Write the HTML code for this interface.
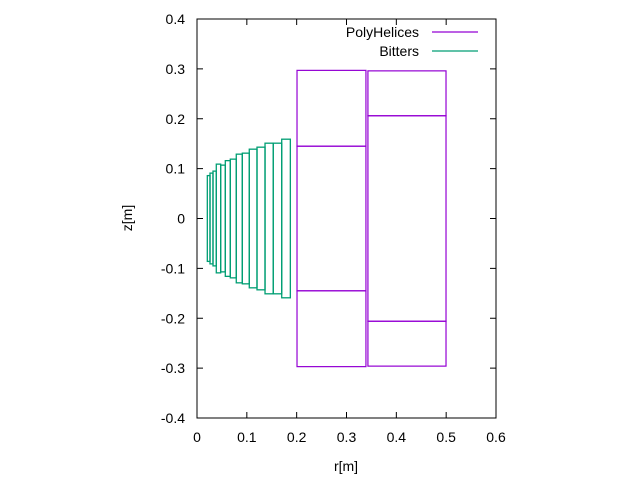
<!DOCTYPE html>
<html><head><meta charset="utf-8"><style>body{margin:0;background:#fff}svg{display:block;font-family:"Liberation Sans",sans-serif;font-size:14px}</style></head>
<body>
<svg id="c" width="640" height="480"></svg>
<script>
const xTicks=[0,0.1,0.2,0.3,0.4,0.5,0.6];
const yTicks=[-0.4,-0.3,-0.2,-0.1,0,0.1,0.2,0.3,0.4];
const bitterR1=[0.0207,0.0261,0.0321,0.0387,0.0475,0.0568,0.0668,0.0788,0.0909,0.1049,0.1204,0.1365,0.153,0.170];
const bitterR2=[0.0261,0.0321,0.0387,0.0475,0.0568,0.0668,0.0788,0.0909,0.1049,0.1204,0.1365,0.153,0.170,0.1873];
const bitterH=[0.086,0.091,0.095,0.109,0.107,0.116,0.119,0.129,0.131,0.139,0.143,0.151,0.151,0.159];
const helixR1=[0.2007,0.2007,0.2007,0.343,0.343,0.343];
const helixR2=[0.339,0.339,0.339,0.4997,0.4997,0.4997];
const helixZ1=[-0.297,-0.145,0.145,-0.296,-0.206,0.206];
const helixZ2=[-0.145,0.145,0.297,-0.206,0.206,0.296];
const L=197,R=496,T=19,B=418;
const X=v=>L+(v-0)/0.6*(R-L), Y=v=>B-(v+0.4)/0.8*(B-T);
const s=document.getElementById('c'),NS='http://www.w3.org/2000/svg';
function el(t,a,p){const e=document.createElementNS(NS,t);for(const k in a)e.setAttribute(k,a[k]);(p||s).appendChild(e);return e;}
const fmt=v=>(Math.round(v*10)/10).toString();
xTicks.forEach(v=>{const x=X(v);
 const t=el('line',{x1:x,x2:x,y1:B,y2:B-6,stroke:'#000'});
 el('line',{x1:x,x2:x,y1:T,y2:T+6,stroke:'#000'});
 const tx=el('text',{x:x,y:B+24,'text-anchor':'middle'});tx.textContent=fmt(v);});
yTicks.forEach(v=>{const y=Y(v);
 const t=el('line',{x1:L,x2:L+6,y1:y,y2:y,stroke:'#000'});
 el('line',{x1:R,x2:R-6,y1:y,y2:y,stroke:'#000'});
 const tx=el('text',{x:L-12,y:y+5,'text-anchor':'end'});tx.textContent=fmt(v);});
for(let i=0;i<bitterH.length;i++){const x1=X(bitterR1[i]),x2=X(bitterR2[i]),y1=Y(bitterH[i]),y2=Y(-bitterH[i]);
 const r=el('rect',{x:x1,y:y1,width:x2-x1,height:y2-y1,fill:'none',stroke:'#009e73','stroke-width':1.3});
 }
for(let i=0;i<helixR1.length;i++){const x1=X(helixR1[i]),x2=X(helixR2[i]),y1=Y(helixZ2[i]),y2=Y(helixZ1[i]);
 const r=el('rect',{x:x1,y:y1,width:x2-x1,height:y2-y1,fill:'none',stroke:'#9400d3','stroke-width':1.2});
 }
const f=el('rect',{x:L,y:T,width:R-L,height:B-T,fill:'none',stroke:'#000'});
const xt=el('text',{x:346,y:471,'text-anchor':'middle'});xt.textContent='r[m]';
const yt=el('text',{x:132,y:218,'text-anchor':'middle',transform:'rotate(-90 132 218)'});yt.textContent='z[m]';
[['PolyHelices','#9400d3',37],['Bitters','#009e73',56]].forEach(([n,c,y])=>{
 const g=el('g',{});
 const t=el('text',{x:419,y:y,'text-anchor':'end'},g);t.textContent=n;
 el('line',{x1:432,x2:478,y1:y-5,y2:y-5,stroke:c,'stroke-width':1.2},g);});
</script>
</body></html>
